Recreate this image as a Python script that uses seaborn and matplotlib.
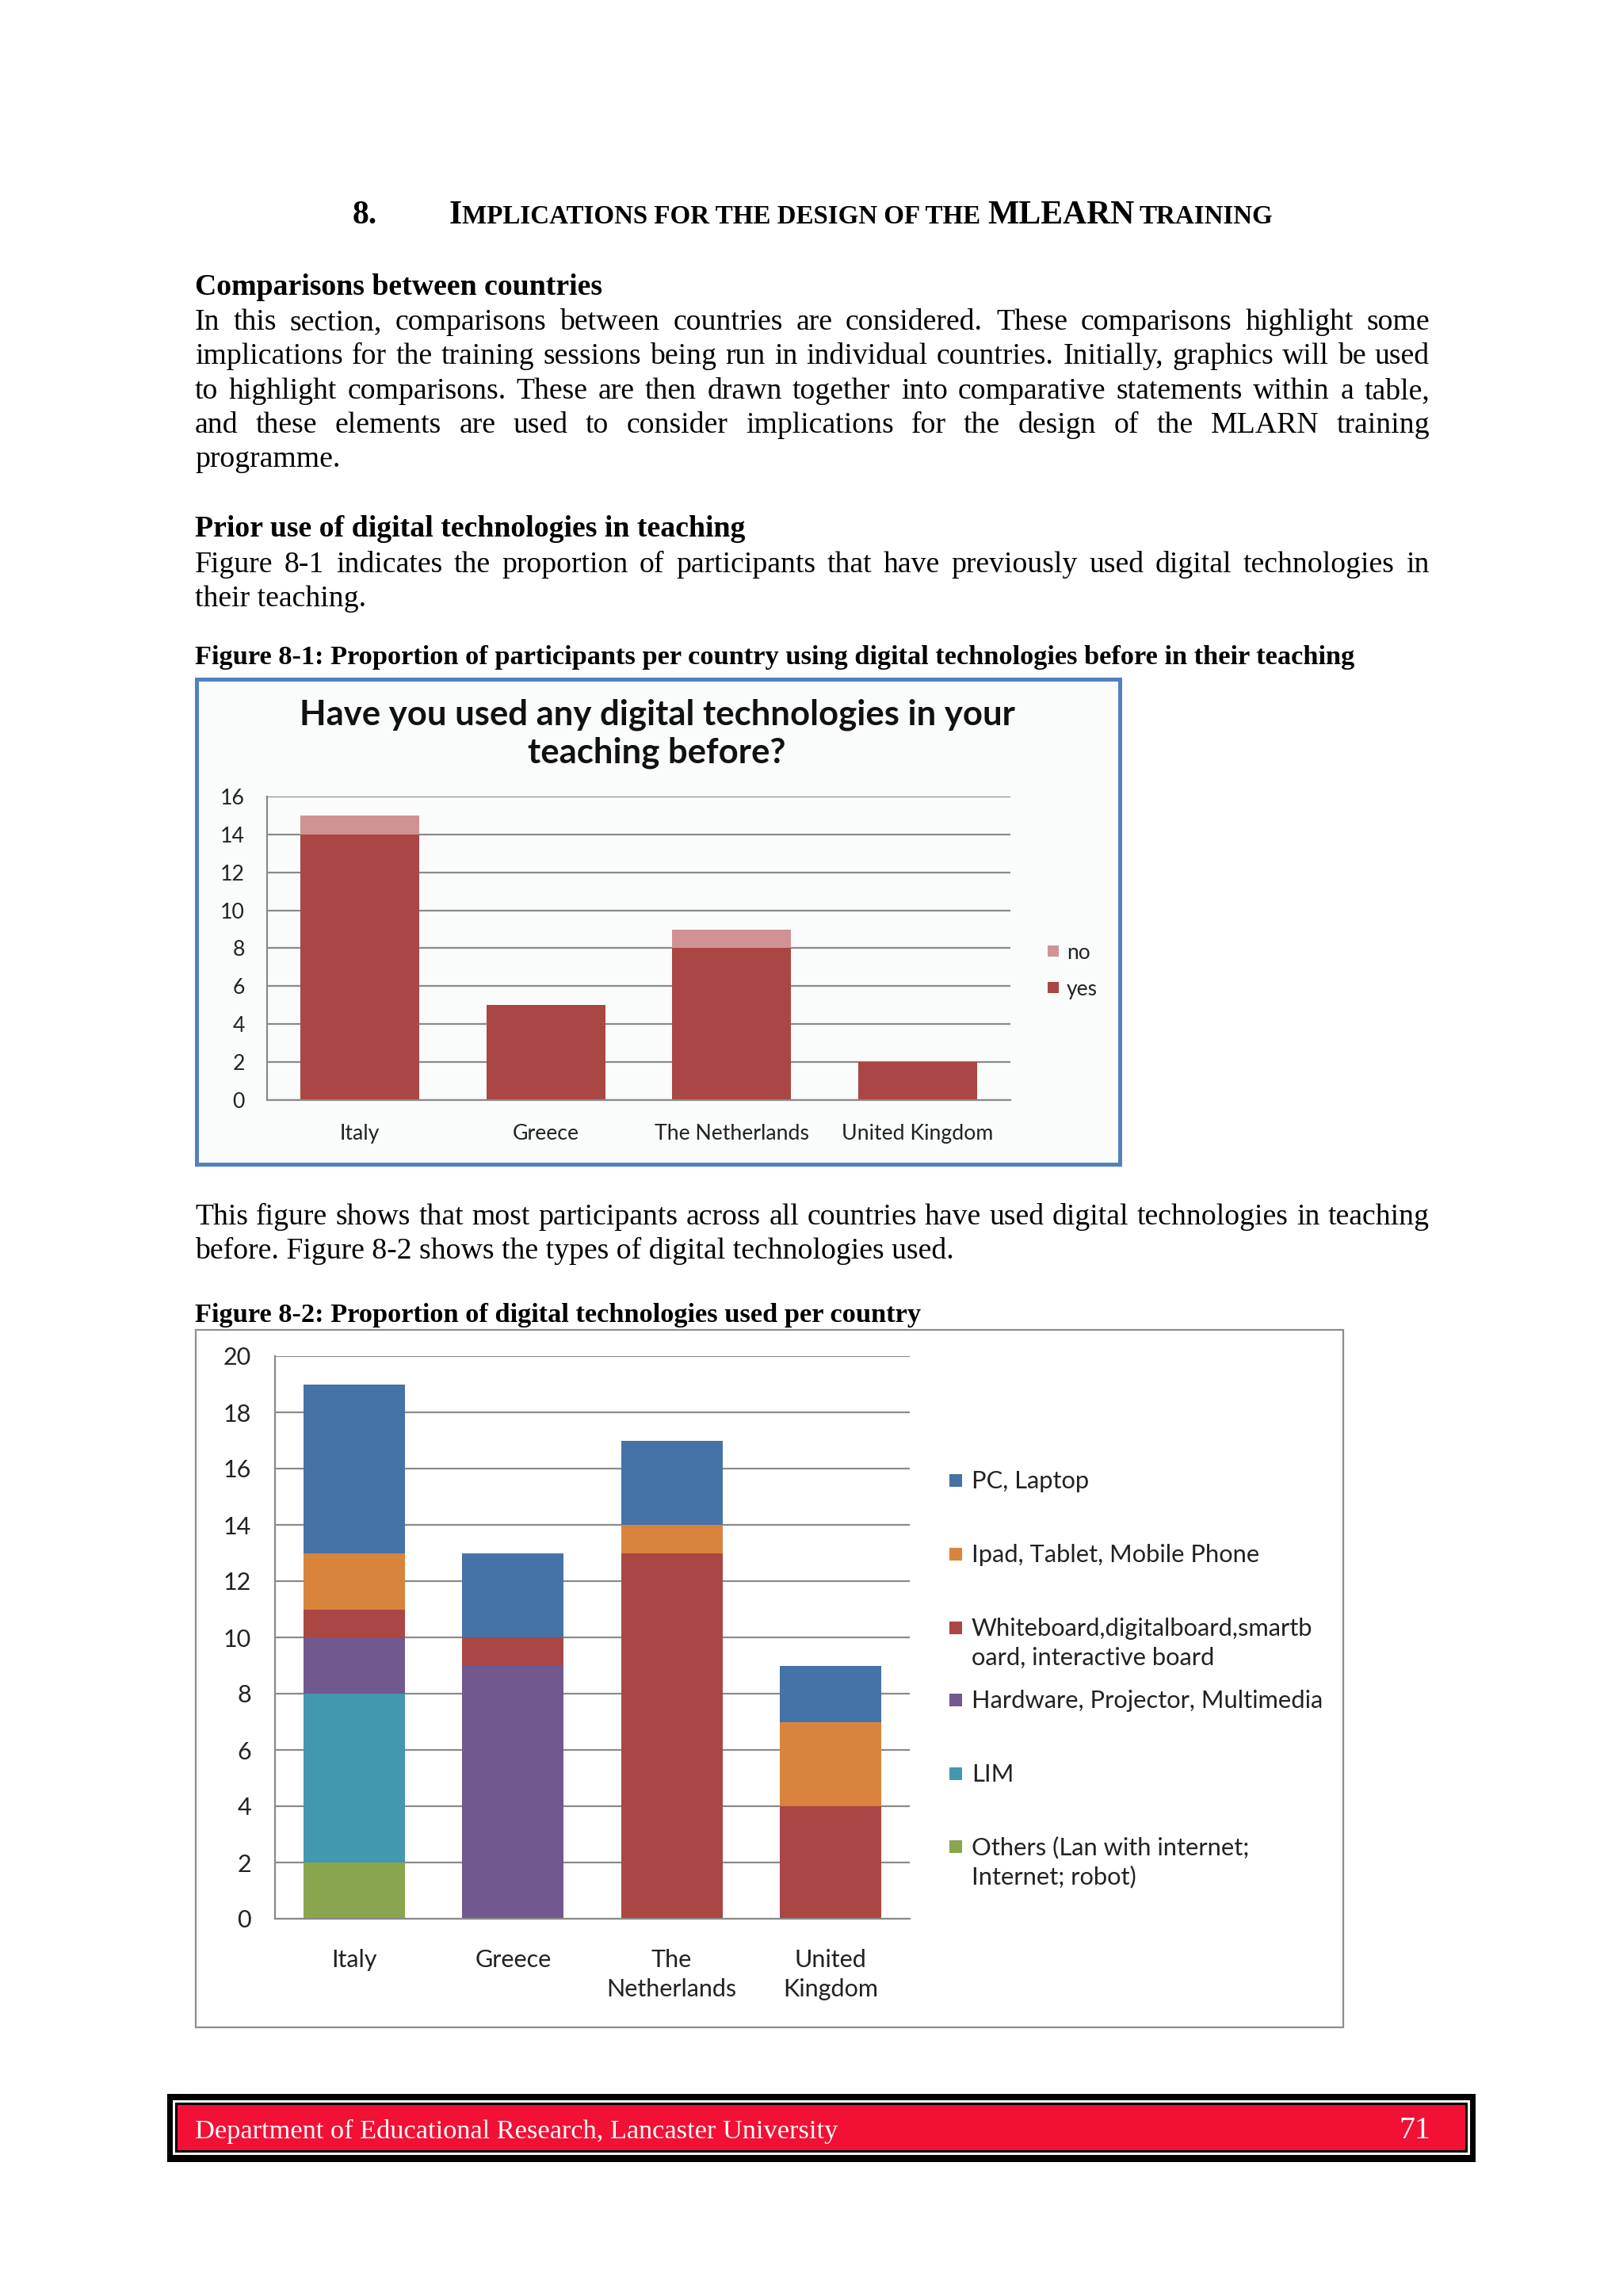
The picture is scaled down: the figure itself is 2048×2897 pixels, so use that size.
import numpy as np
import pandas as pd
import seaborn as sns
import matplotlib.pyplot as plt
from matplotlib.patches import Rectangle

W, H = 2048, 2897
DPI = 200

# Figure 8-1 data
countries = ['Italy', 'Greece', 'The Netherlands', 'United Kingdom']
used_yes = [14, 5, 8, 2]
used_no = [1, 0, 1, 0]

# Figure 8-2 data
countries2 = ['Italy', 'Greece', 'The\nNetherlands', 'United\nKingdom']
tech_labels = ['PC, Laptop',
               'Ipad, Tablet, Mobile Phone',
               'Whiteboard,digitalboard,smartb\noard, interactive board',
               'Hardware, Projector, Multimedia',
               'LIM',
               'Others (Lan with internet;\nInternet; robot)']
pc_laptop = [6, 3, 3, 2]
ipad_tablet = [2, 0, 1, 3]
whiteboard = [1, 1, 13, 4]
hardware = [2, 9, 0, 0]
lim = [6, 0, 0, 0]
others = [2, 0, 0, 0]

tech_colors = ['#4572A7', '#D9843D', '#AA4643', '#71588F', '#4298AF', '#89A54E']
yes_color, no_color = '#AA4643', '#D09292'

SERIF = 'Liberation Serif'
SANS = 'Lato'

fig = plt.figure(figsize=(W / DPI, H / DPI), dpi=DPI)
fig.patch.set_facecolor('white')
r = fig.canvas.get_renderer()


def fx(x):
    return x / W


def fy(y):
    return 1 - y / H


def rect(x0, y0, x1, y1, z=-5, **kw):
    fig.patches.append(Rectangle((fx(x0), fy(y1)), (x1 - x0) / W, (y1 - y0) / H,
                                 transform=fig.transFigure, zorder=z, **kw))


def put(x, y, s, **kw):
    kw.setdefault('va', 'baseline')
    return fig.text(fx(x), fy(y), s, **kw)


def line(s, y, just=True, size=13.6, weight='normal', x0=246, x1=1804):
    if not just:
        return put(x0, y, s, family=SERIF, size=size, weight=weight)
    words = s.split()
    arts = [put(x0, y, w, family=SERIF, size=size, weight=weight) for w in words]
    ws = [a.get_window_extent(r).width for a in arts]
    gap = (x1 - x0 - sum(ws)) / (len(words) - 1)
    x = x0
    for a, w in zip(arts, ws):
        a.set_x(fx(x))
        x += w + gap


# heading with small caps
put(445, 282, '8.', family=SERIF, size=15, weight='bold')
t = put(567, 282, 'I', family=SERIF, size=15, weight='bold')
x = 567 + t.get_window_extent(r).width
put(x, 282, 'MPLICATIONS FOR THE DESIGN OF THE', family=SERIF, size=11.9, weight='bold')
put(1246, 282, 'MLEARN', family=SERIF, size=15, weight='bold')
put(1438, 282, 'TRAINING', family=SERIF, size=11.9, weight='bold')

line('Comparisons between countries', 372, just=False, weight='bold')
line('In this section, comparisons between countries are considered. These comparisons highlight some', 416)
line('implications for the training sessions being run in individual countries. Initially, graphics will be used', 459)
line('to highlight comparisons. These are then drawn together into comparative statements within a table,', 503)
line('and these elements are used to consider implications for the design of the MLARN training', 546)
line('programme.', 589, just=False)

line('Prior use of digital technologies in teaching', 677, just=False, weight='bold')
line('Figure 8-1 indicates the proportion of participants that have previously used digital technologies in', 722)
line('their teaching.', 765, just=False)
line('Figure 8-1: Proportion of participants per country using digital technologies before in their teaching',
     838, just=False, weight='bold', size=12.4)

line('This figure shows that most participants across all countries have used digital technologies in teaching', 1545)
line('before. Figure 8-2 shows the types of digital technologies used.', 1588, just=False)
line('Figure 8-2: Proportion of digital technologies used per country', 1668, just=False, weight='bold', size=12.4)

# ---------- Figure 8-1 ----------
rect(248, 857, 1413, 1469, facecolor='#FAFBFB', edgecolor='#5181BF', lw=1.8)
put(829, 914, 'Have you used any digital technologies in your', family=SANS, size=15.7,
    weight='bold', ha='center', color='#111111')
put(829, 962, 'teaching before?', family=SANS, size=15.7, weight='bold', ha='center', color='#111111')

ax1 = fig.add_axes([fx(337), fy(1388), (1275 - 337) / W, (1388 - 1005) / H])
df1 = pd.DataFrame({'country': countries, 'yes': used_yes, 'no': used_no})
sns.barplot(data=df1, x='country', y='yes', color=yes_color, saturation=1,
            width=0.64, linewidth=0, errorbar=None, ax=ax1)
sns.barplot(data=df1, x='country', y='no', bottom=df1['yes'], color=no_color, saturation=1,
            width=0.64, linewidth=0, errorbar=None, ax=ax1)
ax1.set_ylim(0, 16)
ax1.set_yticks(range(0, 17, 2))
ax1.set_xlim(-0.5, 3.5)

# legend 8-1
for lab, col, yc in [('no', no_color, 1200), ('yes', yes_color, 1246)]:
    rect(1322, yc - 7, 1336, yc + 7, z=2, facecolor=col, edgecolor='none')
    put(1346, yc, lab, family=SANS, size=9.5, va='center_baseline', color='#222222')

# ---------- Figure 8-2 ----------
rect(247, 1678, 1695, 2558, facecolor='white', edgecolor='#8E8E8E', lw=0.8)
ax2 = fig.add_axes([fx(347), fy(2421), (1148 - 347) / W, (2421 - 1711) / H])
series = [others, lim, hardware, whiteboard, ipad_tablet, pc_laptop]
cols = tech_colors[::-1]
bottom = np.zeros(len(countries2))
for vals, col in zip(series, cols):
    sns.barplot(x=countries2, y=vals, bottom=bottom.copy(), color=col, saturation=1,
                width=0.64, linewidth=0, errorbar=None, ax=ax2)
    bottom += np.array(vals)
ax2.set_ylim(0, 20)
ax2.set_yticks(range(0, 21, 2))
ax2.set_xlim(-0.5, 3.5)

# legend 8-2
leg_y = [1868, 1961, 2054, 2145, 2238, 2330]
for lab, col, yc in zip(tech_labels, tech_colors, leg_y):
    rect(1198, yc - 8, 1214, yc + 8, z=2, facecolor=col, edgecolor='none')
    for i, part in enumerate(lab.split('\n')):
        put(1226, yc + 10 + 37 * i, part, family=SANS, size=11.1, color='#222222')

for ax, ls, xp, yp in [(ax1, 9.6, 30, 28), (ax2, 11, 38, 30)]:
    ax.set_facecolor('none')
    ax.set_xlabel('')
    ax.set_ylabel('')
    for s in ['top', 'right']:
        ax.spines[s].set_visible(False)
    for s in ['left', 'bottom']:
        ax.spines[s].set_color('#8A8A8A')
        ax.spines[s].set_linewidth(0.8)
    ax.yaxis.grid(True, color='#8A8A8A', lw=0.8)
    ax.set_axisbelow(True)
    ax.tick_params(length=0, labelsize=ls, colors='#222222')
    ax.tick_params(axis='x', pad=xp / 2.78)
    ax.tick_params(axis='y', pad=yp / 2.78)
    for lab in ax.get_xticklabels() + ax.get_yticklabels():
        lab.set_family(SANS)
        lab.set_linespacing(1.4)

# ---------- footer ----------
rect(211, 2642, 1862, 2728, facecolor='black', edgecolor='none')
rect(218, 2650, 1855, 2719, facecolor='white', edgecolor='none')
rect(221, 2653, 1852, 2716, facecolor='black', edgecolor='none')
rect(224, 2656, 1849, 2713, facecolor='#F21035', edgecolor='none')
put(246, 2698, 'Department of Educational Research, Lancaster University', family=SERIF,
    size=12.4, color='white')
put(1765, 2698, '71', family=SERIF, size=14.3, color='white')

fig.savefig('out.png', dpi=DPI)
